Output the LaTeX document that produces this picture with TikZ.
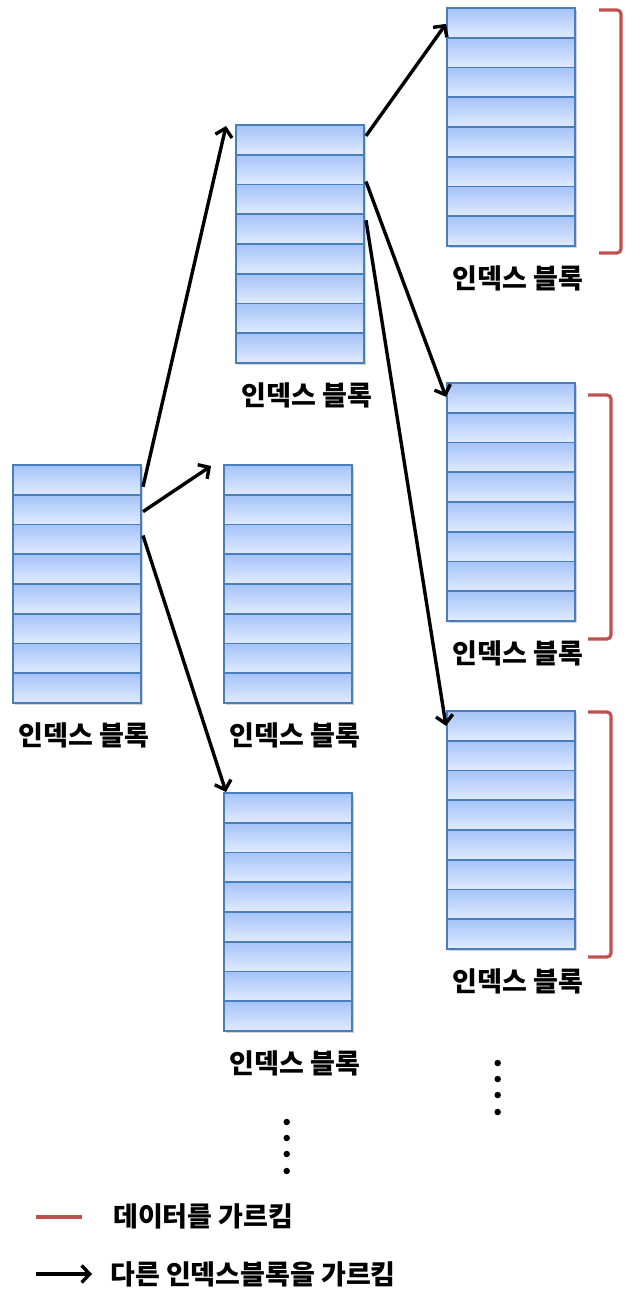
\documentclass[tikz,border=0pt]{standalone}
\usepackage{fontspec}
\setmainfont{Noto Sans CJK KR}
\usetikzlibrary{arrows.meta,shadows,calc}
\definecolor{cellborder}{HTML}{4A7EBB}
\definecolor{celltop}{HTML}{E1EBFF}
\definecolor{cellbot}{HTML}{A4C3F7}
\definecolor{datared}{HTML}{C0504D}
\tikzset{
 % y axis points down here, so the axis shading is flipped: swap the colours
 cell/.style={draw=cellborder, line width=1.8pt, top color=cellbot, bottom color=celltop,
   minimum width=128pt, minimum height=29.75pt, inner sep=0pt, outer sep=0pt, anchor=north west},
 blockbg/.style={fill=white, minimum width=128pt, minimum height=238pt, inner sep=0pt, outer sep=0pt,
   anchor=north west, drop shadow={shadow xshift=1.5pt, shadow yshift=-2pt, opacity=0.35}},
 lbl/.style={font=\bfseries\fontsize{27}{29}\selectfont, inner sep=0pt},
 ptr/.style={line width=3.4pt, -{Straight Barb[length=8pt,width=17pt]}},
 dataptr/.style={draw=datared, line width=3.2pt, rounded corners=4pt},
 vdot/.style={circle, fill=black, inner sep=0pt, minimum size=6.5pt},
}
\newcommand\idxblock[3]{%
 \node[blockbg] (#1) at (#2,#3) {};
 \foreach \i in {1,...,8} {
   \node[cell] (#1-\i) at (#2, {#3+(\i-1)*29.75}) {};
 }
 \node[lbl] (#1-lbl) at ($(#1.south)+(7,32)$) {인덱스 블록};
}
\begin{document}
\begin{tikzpicture}[x=1pt,y=-1pt]
\useasboundingbox (0,0) rectangle (632,1304);
\idxblock{A}{13}{465}
\idxblock{B}{236}{125}
\idxblock{C}{224}{465}
\idxblock{D}{224}{793}
\idxblock{E}{447}{8}
\idxblock{F}{447}{383}
\idxblock{G}{447}{711}
% pointers to other index blocks
\draw[ptr] ([shift={(2,-8)}]A-1.south east) -- ([shift={(-10,1)}]B.north west);
\draw[ptr] ([shift={(2,2)}]A-2.east) -- ([shift={(-13,1)}]C.north west);
\draw[ptr] ([shift={(2,11)}]A-3.north east) -- ([shift={(2,-1)}]D.north west);
\draw[ptr] ([shift={(2,-4)}]B-1.east) -- ([shift={(-1,1)}]E-1.west);
\draw[ptr] ([shift={(2,-3)}]B-2.south east) -- ([shift={(-1,-1)}]F-1.west);
\draw[ptr] ([shift={(2,6)}]B-4.north east) -- ([shift={(-1,0)}]G-1.west);
% data brackets
\draw[dataptr] ($(E.north east)+(24,2)$) -- ($(E.north east)+(46,2)$) -- ($(E.south east)+(46,7)$) -- ($(E.south east)+(24,7)$);
\draw[dataptr] ($(F.north east)+(13,12)$) -- ($(F.north east)+(36,12)$) -- ($(F.south east)+(36,18)$) -- ($(F.south east)+(13,18)$);
\draw[dataptr] ($(G.north east)+(13,1)$) -- ($(G.north east)+(36,1)$) -- ($(G.south east)+(36,8)$) -- ($(G.south east)+(13,8)$);
% dots
\foreach \y [count=\k] in {1122,1138,1154,1171} {\node[vdot] (dl\k) at (286.7,\y) {};}
\foreach \y [count=\k] in {1063,1079,1095,1112} {\node[vdot] (dr\k) at (497.7,\y) {};}
% legend
\coordinate (lr1) at (36,1217); \coordinate (lr2) at (82,1217);
\draw[draw=datared, line width=3.2pt] (lr1) -- (lr2);
\node[lbl, anchor=west] (leg1) at (113,1216) {데이터를 가르킴};
\coordinate (la1) at (36,1274); \coordinate (la2) at (92,1274);
\draw[ptr] (la1) -- (la2);
\node[lbl, anchor=west] (leg2) at (110,1274) {다른 인덱스블록을 가르킴};
\end{tikzpicture}
\end{document}
